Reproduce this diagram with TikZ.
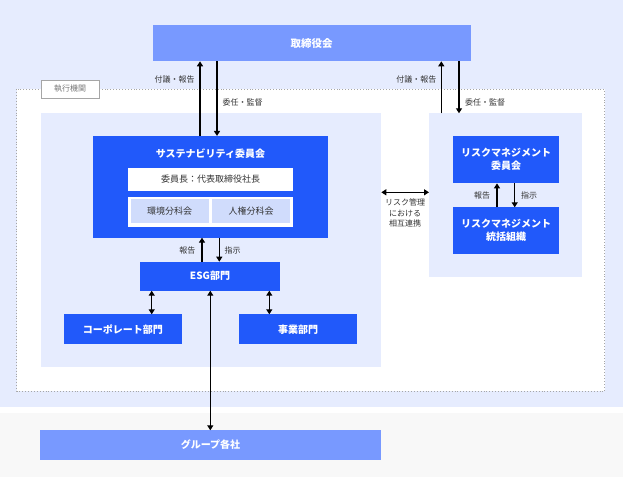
\documentclass[tikz,border=0pt]{standalone}
\usepackage{fontspec}
\setmainfont{Noto Sans CJK JP}
\usetikzlibrary{arrows.meta}
\definecolor{bgblue}{HTML}{E6ECFE}
\definecolor{bggray}{HTML}{F8F8F8}
\definecolor{boardblue}{HTML}{7899FF}
\definecolor{darkblue}{HTML}{2159FA}
\definecolor{subblue}{HTML}{D0DCFC}
\definecolor{labelgray}{HTML}{333333}
\definecolor{tabgray}{HTML}{777777}
\tikzset{
  box/.style={inner sep=0pt, outer sep=0pt, align=center},
  lightbox/.style={box, fill=boardblue, text=white, font=\fontsize{10.5}{12}\selectfont\bfseries},
  darkbox/.style={box, fill=darkblue, text=white, font=\fontsize{10}{13}\selectfont\bfseries},
  panel/.style={box, fill=bgblue},
  whitebox/.style={box, fill=white, text=labelgray, font=\fontsize{9}{11}\selectfont},
  subbox/.style={box, fill=subblue, text=labelgray, font=\fontsize{9}{11}\selectfont},
  lbl/.style={inner sep=0pt, text=labelgray, font=\fontsize{8}{10.7}\selectfont, align=center},
  arr/.style={line width=1.4pt, black, -{Triangle[length=5pt,width=6pt]}},
  darr/.style={line width=1.4pt, black, {Triangle[length=5pt,width=6pt]}-{Triangle[length=5pt,width=6pt]}},
}
\begin{document}
\begin{tikzpicture}[x=1pt,y=-1pt]
\useasboundingbox (0,0) rectangle (623,477);
% backgrounds
\fill[bgblue] (0,0) rectangle (623,407.3);
\fill[white] (0,407.3) rectangle (623,413.3);
\fill[bggray] (0,413.3) rectangle (623,477);
% executive dotted area
\draw[fill=white, draw=gray!70, dotted, line width=0.9pt] (16.7,89.3) rectangle (604.7,391);
\node[box, draw=gray!70, line width=0.8pt, fill=white, text=tabgray, font=\fontsize{8}{10}\selectfont, minimum width=58pt, minimum height=18pt] (tab) at (70,89) {執行機関};
% panels
\node[panel, minimum width=340.3pt, minimum height=253.7pt] (lpanel) at (211.15,239.85) {};
\node[panel, minimum width=153pt, minimum height=163.4pt] (rpanel) at (505.5,195) {};
% board
\node[lightbox, minimum width=318pt, minimum height=36pt] (board) at (311.7,43.3) {取締役会};
% sustainability committee
\node[darkbox, minimum width=234.4pt, minimum height=101.7pt] (sus) at (210.5,186.8) {};
\node[box, text=white, font=\fontsize{10}{12}\selectfont\bfseries] (sustitle) at (210.5,153.3) {サステナビリティ委員会};
\node[whitebox, minimum width=164.4pt, minimum height=23pt] (chair) at (210.5,179.2) {委員長：代表取締役社長};
\node[box, fill=white, minimum width=164.4pt, minimum height=30pt] (subcont) at (210.5,211.7) {};
\node[subbox, minimum width=78pt, minimum height=24pt] (env) at (169.7,211.3) {環境分科会};
\node[subbox, minimum width=78pt, minimum height=24pt] (hr) at (251,211.3) {人権分科会};
% ESG and departments
\node[darkbox, minimum width=140pt, minimum height=29pt] (esg) at (210,276.2) {ESG部門};
\node[darkbox, minimum width=117.7pt, minimum height=30pt] (corp) at (122.8,329.3) {コーポレート部門};
\node[darkbox, minimum width=118pt, minimum height=30pt] (biz) at (298,329.3) {事業部門};
% risk
\node[darkbox, minimum width=105.7pt, minimum height=47.3pt] (rcom) at (506.2,159.7) {リスクマネジメント\\委員会};
\node[darkbox, minimum width=105.7pt, minimum height=47pt] (rorg) at (506.2,230.8) {リスクマネジメント\\統括組織};
% group
\node[lightbox, font=\fontsize{10}{12}\selectfont\bfseries, minimum width=341pt, minimum height=29.4pt] (group) at (210.5,445) {グループ各社};
% arrows board <-> sustainability
\draw[arr] (sus.north -| 200,0) -- (board.south -| 200,0);
\draw[arr] (board.south -| 217,0) -- (sus.north -| 217,0);
\draw[arr] (rpanel.north -| 441.3,0) -- (board.south -| 441.3,0);
\draw[arr] (board.south -| 459,0) -- (rpanel.north -| 459,0);
% sustainability <-> ESG
\draw[arr] (esg.north -| 202,0) -- (sus.south -| 202,0);
\draw[arr] (sus.south -| 219.3,0) -- (esg.north -| 219.3,0);
% ESG <-> departments
\draw[darr] (esg.south -| 151.7,0) -- (corp.north -| 151.7,0);
\draw[darr] (esg.south -| 269.3,0) -- (biz.north -| 269.3,0);
\draw[darr] (esg.south -| 210.3,0) -- (group.north -| 210.3,0);
% risk arrows
\draw[arr] (rorg.north -| 497,0) -- (rcom.south -| 497,0);
\draw[arr] (rcom.south -| 514.7,0) -- (rorg.north -| 514.7,0);
\draw[darr] (lpanel.east |- 0,192.3) -- (rpanel.west |- 0,192.3);
% labels
\node[lbl] (l1) at (174.5,79) {付議・報告};
\node[lbl] (l2) at (416.3,79) {付議・報告};
\node[lbl] (l3) at (242.5,102) {委任・監督};
\node[lbl] (l4) at (485,102) {委任・監督};
\node[lbl] (l5) at (187.3,250) {報告};
\node[lbl] (l6) at (232.7,250) {指示};
\node[lbl] (l7) at (482,195.7) {報告};
\node[lbl] (l8) at (529,195.7) {指示};
\node[lbl, anchor=north] (l9) at (405,198.5) {リスク管理\\における\\相互連携};
\end{tikzpicture}
\end{document}
